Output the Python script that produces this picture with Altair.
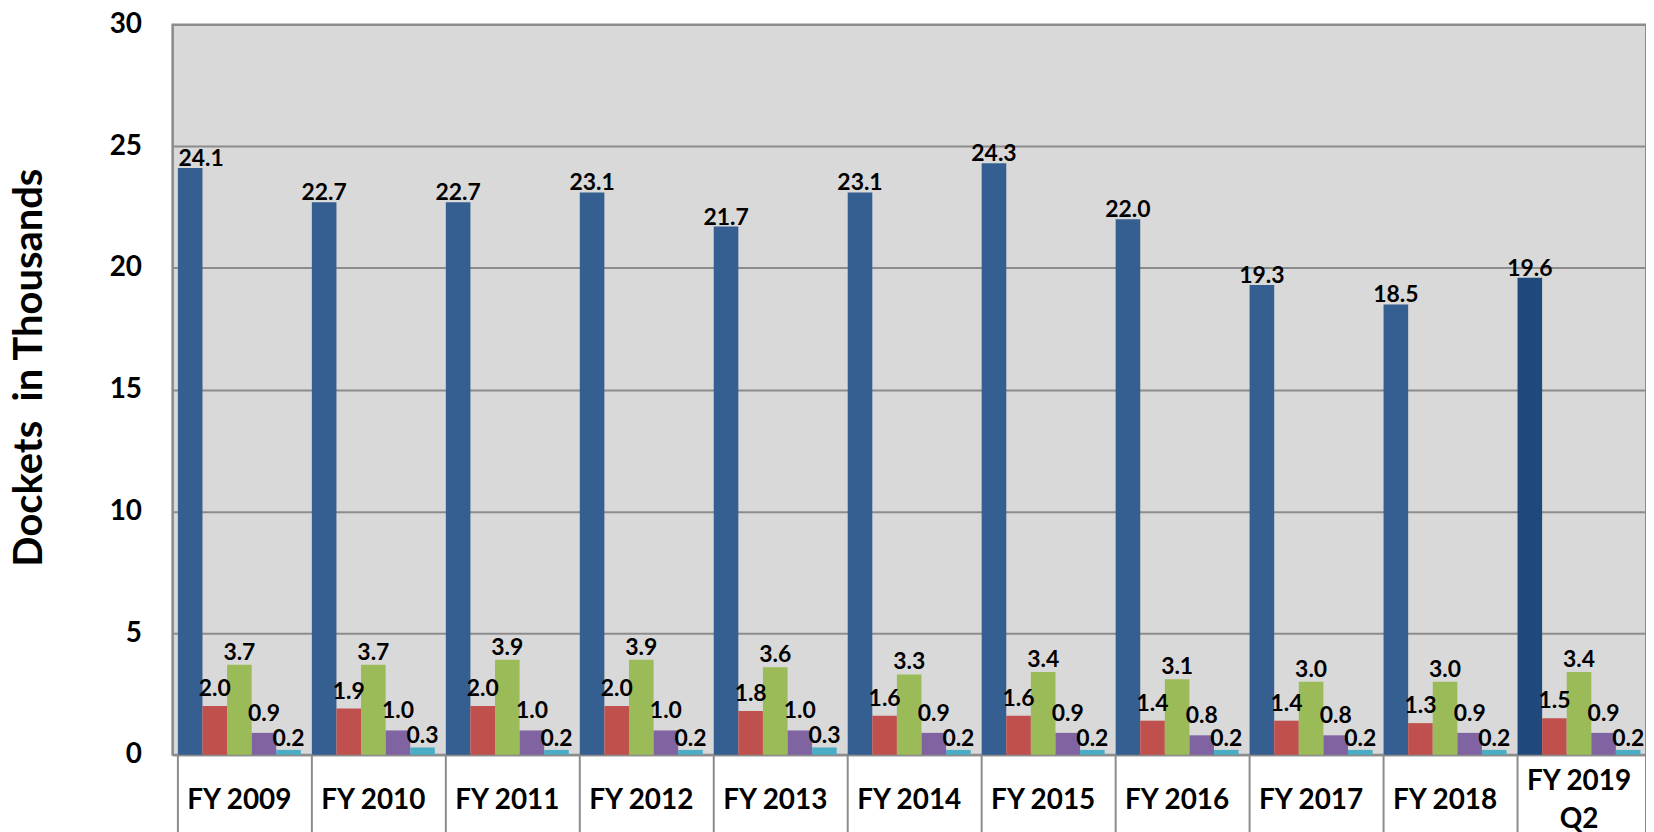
import altair as alt
import pandas as pd

categories = ["FY 2009", "FY 2010", "FY 2011", "FY 2012", "FY 2013", "FY 2014",
              "FY 2015", "FY 2016", "FY 2017", "FY 2018", "FY 2019 Q2"]
series_names = ["Series 1", "Series 2", "Series 3", "Series 4", "Series 5"]
s1 = [24.1, 22.7, 22.7, 23.1, 21.7, 23.1, 24.3, 22.0, 19.3, 18.5, 19.6]
s2 = [2.0, 1.9, 2.0, 2.0, 1.8, 1.6, 1.6, 1.4, 1.4, 1.3, 1.5]
s3 = [3.7, 3.7, 3.9, 3.9, 3.6, 3.3, 3.4, 3.1, 3.0, 3.0, 3.4]
s4 = [0.9, 1.0, 1.0, 1.0, 1.0, 0.9, 0.9, 0.8, 0.8, 0.9, 0.9]
s5 = [0.2, 0.3, 0.2, 0.2, 0.3, 0.2, 0.2, 0.2, 0.2, 0.2, 0.2]
series_values = [s1, s2, s3, s4, s5]
series_colors = ["#365F91", "#C0504D", "#9BBB59", "#8064A2", "#4BACC6"]
latest_color = "#1F497D"
label_lift = [2, 10, 5, 12, 4]
y_ticks = [0, 5, 10, 15, 20, 25, 30]

rows = []
for si, (name, vals) in enumerate(zip(series_names, series_values)):
    for ci, (cat, v) in enumerate(zip(categories, vals)):
        shade = name + " latest" if (si == 0 and ci == len(categories) - 1) else name
        rows.append(dict(category=cat, series=name, value=v, shade=shade,
                         label=f"{v:.1f}", first=(ci == 0)))
df = pd.DataFrame(rows)
cat_df = pd.DataFrame({"category": categories})

W, H = 1479, 733
FONT = "Lato"
GRAY = "#8c8c8c"

x_enc = alt.X(
    "category:N", sort=categories,
    scale=alt.Scale(paddingInner=0.082, paddingOuter=0.041),
    axis=alt.Axis(
        title=None, labelAngle=0, labelFont=FONT, labelFontSize=28,
        labelFontWeight="bold", labelColor="black", labelBaseline="middle",
        labelPadding={"condition": {"test": "datum.value == 'FY 2019 Q2'", "value": 27},
                      "value": 46},
        ticks=False, domainColor=GRAY, domainWidth=2,
        labelLineHeight=38,
        labelExpr="datum.label == 'FY 2019 Q2' ? ['FY 2019', 'Q2'] : datum.label",
    ),
)
xoff = alt.XOffset("series:N", sort=series_names,
                   scale=alt.Scale(paddingInner=0, paddingOuter=0))
y_enc = alt.Y(
    "value:Q", scale=alt.Scale(domain=[0, 30], nice=False),
    axis=alt.Axis(
        values=y_ticks, title="Dockets \u00a0in Thousands", ticks=False,
        labelPadding=31, labelFont=FONT, labelFontSize=28, labelFontWeight="bold",
        labelColor="black", gridColor=GRAY, gridWidth=2, domainColor=GRAY,
        domainWidth=2, titleFont=FONT, titleFontSize=40, titleFontWeight="bold",
        titleColor="black", titleAngle=-90, titleX=-143, titleY=344,
        titleAlign="center", titleBaseline="middle",
    ),
)

bars = alt.Chart(df).mark_bar().encode(
    x=x_enc, xOffset=xoff, y=y_enc,
    color=alt.Color("shade:N",
                    scale=alt.Scale(domain=series_names + ["Series 1 latest"],
                                    range=series_colors + [latest_color]),
                    legend=None),
)

texts = []
for si, (name, lift) in enumerate(zip(series_names, label_lift)):
    for is_first in (False, True):
        shift = 11 if (si == 0 and is_first) else 0
        t = alt.Chart(df).transform_filter(
            (alt.datum.series == name) & (alt.datum.first == is_first)
        ).mark_text(
            font=FONT, fontSize=23, fontWeight="bold", color="black",
            baseline="alphabetic", dy=-lift, dx=shift,
        ).encode(
            x=alt.X("category:N", sort=categories), xOffset=xoff,
            y=alt.Y("value:Q"), text="label:N",
        )
        texts.append(t)

box_lines = alt.Chart(cat_df).mark_rule(color=GRAY, strokeWidth=2).encode(
    x=alt.X("category:N", sort=categories, bandPosition=0),
    y=alt.value(H), y2=alt.value(H + 80),
)
right_line = alt.Chart(cat_df).mark_rule(color=GRAY, strokeWidth=2).encode(
    x=alt.value(W), y=alt.value(H), y2=alt.value(H + 80),
)

chart = alt.layer(bars, *texts, box_lines, right_line).properties(
    width=W, height=H,
    autosize=alt.AutoSizeParams(type="none"),
    padding={"left": 165, "top": 15, "right": 0, "bottom": 76},
    background="white",
).configure_view(
    fill="#D9D9D9", stroke=GRAY, strokeWidth=2,
)

chart.save("out.html", embed_options={"renderer": "svg", "actions": False})
